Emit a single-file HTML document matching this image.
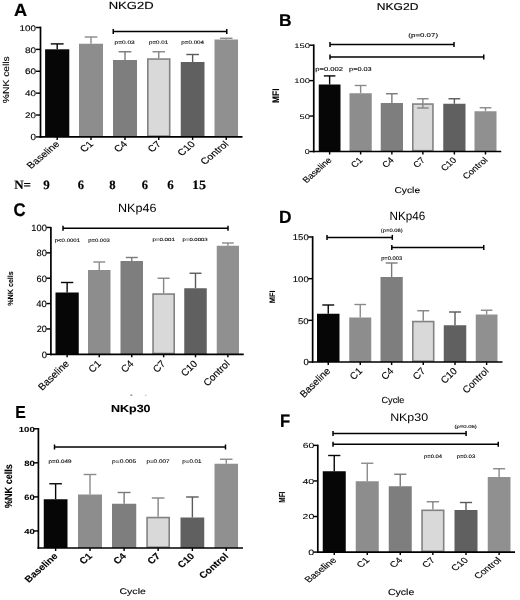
<!DOCTYPE html>
<html><head><meta charset="utf-8"><style>
html,body{margin:0;padding:0;background:#fff;}
svg{display:block;will-change:transform;text-rendering:geometricPrecision;}
text{stroke:#000;}
.S{font-family:"Liberation Sans",sans-serif;}
.Sb{font-family:"Liberation Sans",sans-serif;font-weight:bold;}
.F{font-family:"Liberation Serif",serif;}
.Fb{font-family:"Liberation Serif",serif;font-weight:bold;}
</style></head><body>
<svg width="520" height="600" viewBox="0 0 520 600">
<rect width="520" height="600" fill="#fff"/>
<line x1="57.2" y1="49.3" x2="57.2" y2="43.9" stroke="#060606" stroke-width="1.4"/>
<line x1="50.787" y1="43.9" x2="63.613" y2="43.9" stroke="#060606" stroke-width="1.4"/>
<rect x="45.1" y="49.3" width="24.2" height="87.6" fill="#060606"/>
<line x1="91" y1="43.75" x2="91" y2="37" stroke="#8a8a8a" stroke-width="1.4"/>
<line x1="84.64" y1="37" x2="97.36" y2="37" stroke="#8a8a8a" stroke-width="1.4"/>
<rect x="79" y="43.75" width="24" height="93.15" fill="#8d8d8d"/>
<line x1="125" y1="60" x2="125" y2="51.75" stroke="#7a7a7a" stroke-width="1.4"/>
<line x1="118.64" y1="51.75" x2="131.36" y2="51.75" stroke="#7a7a7a" stroke-width="1.4"/>
<rect x="113" y="60" width="24" height="76.9" fill="#7e7e7e"/>
<line x1="158.75" y1="58.25" x2="158.75" y2="51.75" stroke="#858585" stroke-width="1.4"/>
<line x1="152.523" y1="51.75" x2="164.977" y2="51.75" stroke="#858585" stroke-width="1.4"/>
<rect x="147.8" y="59.05" width="21.9" height="77.05" fill="#d9d9d9" stroke="#828282" stroke-width="1.6"/>
<line x1="192.625" y1="62" x2="192.625" y2="54.5" stroke="#5a5a5a" stroke-width="1.4"/>
<line x1="186.331" y1="54.5" x2="198.919" y2="54.5" stroke="#5a5a5a" stroke-width="1.4"/>
<rect x="180.75" y="62" width="23.75" height="74.9" fill="#606060"/>
<line x1="226.25" y1="39.5" x2="226.25" y2="38.25" stroke="#8a8a8a" stroke-width="1.4"/>
<line x1="220.023" y1="38.25" x2="232.477" y2="38.25" stroke="#8a8a8a" stroke-width="1.4"/>
<rect x="214.5" y="39.5" width="23.5" height="97.4" fill="#909090"/>
<line x1="40.5" y1="26.6" x2="40.5" y2="137.75" stroke="#000" stroke-width="1.7"/>
<line x1="39.65" y1="136.9" x2="242.5" y2="136.9" stroke="#000" stroke-width="1.7"/>
<line x1="36.05" y1="136.9" x2="40.5" y2="136.9" stroke="#000" stroke-width="1.445"/>
<line x1="36.05" y1="115.02" x2="40.5" y2="115.02" stroke="#000" stroke-width="1.445"/>
<line x1="36.05" y1="93.14" x2="40.5" y2="93.14" stroke="#000" stroke-width="1.445"/>
<line x1="36.05" y1="71.26" x2="40.5" y2="71.26" stroke="#000" stroke-width="1.445"/>
<line x1="36.05" y1="49.38" x2="40.5" y2="49.38" stroke="#000" stroke-width="1.445"/>
<line x1="36.05" y1="27.5" x2="40.5" y2="27.5" stroke="#000" stroke-width="1.445"/>
<line x1="57.2" y1="136.9" x2="57.2" y2="139.9" stroke="#000" stroke-width="1.445"/>
<line x1="91" y1="136.9" x2="91" y2="139.9" stroke="#000" stroke-width="1.445"/>
<line x1="125" y1="136.9" x2="125" y2="139.9" stroke="#000" stroke-width="1.445"/>
<line x1="158.75" y1="136.9" x2="158.75" y2="139.9" stroke="#000" stroke-width="1.445"/>
<line x1="192.625" y1="136.9" x2="192.625" y2="139.9" stroke="#000" stroke-width="1.445"/>
<line x1="226.25" y1="136.9" x2="226.25" y2="139.9" stroke="#000" stroke-width="1.445"/>
<line x1="113.25" y1="31.6" x2="226.75" y2="31.6" stroke="#000" stroke-width="1.5"/>
<line x1="113.25" y1="29.1" x2="113.25" y2="34.1" stroke="#000" stroke-width="1.5"/>
<line x1="226.75" y1="29.1" x2="226.75" y2="34.1" stroke="#000" stroke-width="1.5"/>
<line x1="329.625" y1="84.5" x2="329.625" y2="75.9" stroke="#060606" stroke-width="1.4"/>
<line x1="323.861" y1="75.9" x2="335.389" y2="75.9" stroke="#060606" stroke-width="1.4"/>
<rect x="318.75" y="84.5" width="21.75" height="67" fill="#060606"/>
<line x1="360.625" y1="93.25" x2="360.625" y2="85.5" stroke="#8a8a8a" stroke-width="1.4"/>
<line x1="354.729" y1="85.5" x2="366.521" y2="85.5" stroke="#8a8a8a" stroke-width="1.4"/>
<rect x="349.5" y="93.25" width="22.25" height="58.25" fill="#8d8d8d"/>
<line x1="391.875" y1="103" x2="391.875" y2="93.75" stroke="#7a7a7a" stroke-width="1.4"/>
<line x1="385.979" y1="93.75" x2="397.771" y2="93.75" stroke="#7a7a7a" stroke-width="1.4"/>
<rect x="380.75" y="103" width="22.25" height="48.5" fill="#7e7e7e"/>
<line x1="422.875" y1="103.25" x2="422.875" y2="98.75" stroke="#858585" stroke-width="1.4"/>
<line x1="417.111" y1="98.75" x2="428.639" y2="98.75" stroke="#858585" stroke-width="1.4"/>
<rect x="412.8" y="104.05" width="20.15" height="46.65" fill="#d9d9d9" stroke="#828282" stroke-width="1.6"/>
<line x1="422.875" y1="103.25" x2="422.875" y2="108" stroke="#858585" stroke-width="1.4"/>
<line x1="417.111" y1="108" x2="428.639" y2="108" stroke="#858585" stroke-width="1.4"/>
<line x1="454.375" y1="103.75" x2="454.375" y2="98.75" stroke="#5a5a5a" stroke-width="1.4"/>
<line x1="448.479" y1="98.75" x2="460.271" y2="98.75" stroke="#5a5a5a" stroke-width="1.4"/>
<rect x="443.25" y="103.75" width="22.25" height="47.75" fill="#606060"/>
<line x1="485.5" y1="111.25" x2="485.5" y2="107.75" stroke="#8a8a8a" stroke-width="1.4"/>
<line x1="479.67" y1="107.75" x2="491.33" y2="107.75" stroke="#8a8a8a" stroke-width="1.4"/>
<rect x="474.5" y="111.25" width="22" height="40.25" fill="#909090"/>
<line x1="313.75" y1="44.4" x2="313.75" y2="152.35" stroke="#000" stroke-width="1.7"/>
<line x1="312.9" y1="151.5" x2="501.25" y2="151.5" stroke="#000" stroke-width="1.7"/>
<line x1="309.3" y1="151.5" x2="313.75" y2="151.5" stroke="#000" stroke-width="1.445"/>
<line x1="309.3" y1="116.065" x2="313.75" y2="116.065" stroke="#000" stroke-width="1.445"/>
<line x1="309.3" y1="80.63" x2="313.75" y2="80.63" stroke="#000" stroke-width="1.445"/>
<line x1="309.3" y1="45.195" x2="313.75" y2="45.195" stroke="#000" stroke-width="1.445"/>
<line x1="329.625" y1="151.5" x2="329.625" y2="154.5" stroke="#000" stroke-width="1.445"/>
<line x1="360.625" y1="151.5" x2="360.625" y2="154.5" stroke="#000" stroke-width="1.445"/>
<line x1="391.875" y1="151.5" x2="391.875" y2="154.5" stroke="#000" stroke-width="1.445"/>
<line x1="422.875" y1="151.5" x2="422.875" y2="154.5" stroke="#000" stroke-width="1.445"/>
<line x1="454.375" y1="151.5" x2="454.375" y2="154.5" stroke="#000" stroke-width="1.445"/>
<line x1="485.5" y1="151.5" x2="485.5" y2="154.5" stroke="#000" stroke-width="1.445"/>
<line x1="330" y1="44.5" x2="454" y2="44.5" stroke="#000" stroke-width="1.5"/>
<line x1="330" y1="42" x2="330" y2="47" stroke="#000" stroke-width="1.5"/>
<line x1="454" y1="42" x2="454" y2="47" stroke="#000" stroke-width="1.5"/>
<line x1="330" y1="57" x2="483.75" y2="57" stroke="#000" stroke-width="1.5"/>
<line x1="330" y1="54.5" x2="330" y2="59.5" stroke="#000" stroke-width="1.5"/>
<line x1="483.75" y1="54.5" x2="483.75" y2="59.5" stroke="#000" stroke-width="1.5"/>
<line x1="67.125" y1="292.5" x2="67.125" y2="282.5" stroke="#060606" stroke-width="1.4"/>
<line x1="60.964" y1="282.5" x2="73.286" y2="282.5" stroke="#060606" stroke-width="1.4"/>
<rect x="55.5" y="292.5" width="23.25" height="61.8" fill="#060606"/>
<line x1="99.25" y1="270" x2="99.25" y2="262" stroke="#8a8a8a" stroke-width="1.4"/>
<line x1="93.287" y1="262" x2="105.213" y2="262" stroke="#8a8a8a" stroke-width="1.4"/>
<rect x="88" y="270" width="22.5" height="84.3" fill="#8d8d8d"/>
<line x1="131.75" y1="261" x2="131.75" y2="257.5" stroke="#7a7a7a" stroke-width="1.4"/>
<line x1="125.787" y1="257.5" x2="137.713" y2="257.5" stroke="#7a7a7a" stroke-width="1.4"/>
<rect x="120.5" y="261" width="22.5" height="93.3" fill="#7e7e7e"/>
<line x1="163.625" y1="293.25" x2="163.625" y2="278.25" stroke="#858585" stroke-width="1.4"/>
<line x1="157.596" y1="278.25" x2="169.654" y2="278.25" stroke="#858585" stroke-width="1.4"/>
<rect x="153.05" y="294.05" width="21.15" height="59.45" fill="#d9d9d9" stroke="#828282" stroke-width="1.6"/>
<line x1="195.5" y1="288.25" x2="195.5" y2="273.25" stroke="#5a5a5a" stroke-width="1.4"/>
<line x1="189.537" y1="273.25" x2="201.463" y2="273.25" stroke="#5a5a5a" stroke-width="1.4"/>
<rect x="184.25" y="288.25" width="22.5" height="66.05" fill="#606060"/>
<line x1="227.875" y1="245.75" x2="227.875" y2="243" stroke="#8a8a8a" stroke-width="1.4"/>
<line x1="221.979" y1="243" x2="233.771" y2="243" stroke="#8a8a8a" stroke-width="1.4"/>
<rect x="216.75" y="245.75" width="22.25" height="108.55" fill="#909090"/>
<line x1="50.9" y1="226.9" x2="50.9" y2="355.15" stroke="#000" stroke-width="1.7"/>
<line x1="50.05" y1="354.3" x2="243.75" y2="354.3" stroke="#000" stroke-width="1.7"/>
<line x1="46.45" y1="354.3" x2="50.9" y2="354.3" stroke="#000" stroke-width="1.445"/>
<line x1="46.45" y1="328.928" x2="50.9" y2="328.928" stroke="#000" stroke-width="1.445"/>
<line x1="46.45" y1="303.556" x2="50.9" y2="303.556" stroke="#000" stroke-width="1.445"/>
<line x1="46.45" y1="278.184" x2="50.9" y2="278.184" stroke="#000" stroke-width="1.445"/>
<line x1="46.45" y1="252.812" x2="50.9" y2="252.812" stroke="#000" stroke-width="1.445"/>
<line x1="46.45" y1="227.44" x2="50.9" y2="227.44" stroke="#000" stroke-width="1.445"/>
<line x1="67.125" y1="354.3" x2="67.125" y2="357.3" stroke="#000" stroke-width="1.445"/>
<line x1="99.25" y1="354.3" x2="99.25" y2="357.3" stroke="#000" stroke-width="1.445"/>
<line x1="131.75" y1="354.3" x2="131.75" y2="357.3" stroke="#000" stroke-width="1.445"/>
<line x1="163.625" y1="354.3" x2="163.625" y2="357.3" stroke="#000" stroke-width="1.445"/>
<line x1="195.5" y1="354.3" x2="195.5" y2="357.3" stroke="#000" stroke-width="1.445"/>
<line x1="227.875" y1="354.3" x2="227.875" y2="357.3" stroke="#000" stroke-width="1.445"/>
<line x1="63" y1="228.25" x2="228" y2="228.25" stroke="#000" stroke-width="1.5"/>
<line x1="63" y1="225.75" x2="63" y2="230.75" stroke="#000" stroke-width="1.5"/>
<line x1="228" y1="225.75" x2="228" y2="230.75" stroke="#000" stroke-width="1.5"/>
<line x1="328.25" y1="313.75" x2="328.25" y2="305" stroke="#060606" stroke-width="1.4"/>
<line x1="322.288" y1="305" x2="334.212" y2="305" stroke="#060606" stroke-width="1.4"/>
<rect x="317" y="313.75" width="22.5" height="48.25" fill="#060606"/>
<line x1="360.25" y1="317.5" x2="360.25" y2="304.5" stroke="#8a8a8a" stroke-width="1.4"/>
<line x1="354.42" y1="304.5" x2="366.08" y2="304.5" stroke="#8a8a8a" stroke-width="1.4"/>
<rect x="349.25" y="317.5" width="22" height="44.5" fill="#8d8d8d"/>
<line x1="391.625" y1="277" x2="391.625" y2="263" stroke="#7a7a7a" stroke-width="1.4"/>
<line x1="385.729" y1="263" x2="397.521" y2="263" stroke="#7a7a7a" stroke-width="1.4"/>
<rect x="380.5" y="277" width="22.25" height="85" fill="#7e7e7e"/>
<line x1="423.25" y1="320.75" x2="423.25" y2="310.75" stroke="#858585" stroke-width="1.4"/>
<line x1="417.288" y1="310.75" x2="429.212" y2="310.75" stroke="#858585" stroke-width="1.4"/>
<rect x="412.8" y="321.55" width="20.9" height="39.65" fill="#d9d9d9" stroke="#828282" stroke-width="1.6"/>
<line x1="455" y1="325.25" x2="455" y2="312" stroke="#5a5a5a" stroke-width="1.4"/>
<line x1="449.038" y1="312" x2="460.962" y2="312" stroke="#5a5a5a" stroke-width="1.4"/>
<rect x="443.75" y="325.25" width="22.5" height="36.75" fill="#606060"/>
<line x1="486.625" y1="314.5" x2="486.625" y2="310.25" stroke="#8a8a8a" stroke-width="1.4"/>
<line x1="480.861" y1="310.25" x2="492.389" y2="310.25" stroke="#8a8a8a" stroke-width="1.4"/>
<rect x="475.75" y="314.5" width="21.75" height="47.5" fill="#909090"/>
<line x1="312.65" y1="236.2" x2="312.65" y2="362.85" stroke="#000" stroke-width="1.7"/>
<line x1="311.8" y1="362" x2="502.5" y2="362" stroke="#000" stroke-width="1.7"/>
<line x1="308.2" y1="362" x2="312.65" y2="362" stroke="#000" stroke-width="1.445"/>
<line x1="308.2" y1="320.335" x2="312.65" y2="320.335" stroke="#000" stroke-width="1.445"/>
<line x1="308.2" y1="278.67" x2="312.65" y2="278.67" stroke="#000" stroke-width="1.445"/>
<line x1="308.2" y1="237.005" x2="312.65" y2="237.005" stroke="#000" stroke-width="1.445"/>
<line x1="328.25" y1="362" x2="328.25" y2="365" stroke="#000" stroke-width="1.445"/>
<line x1="360.25" y1="362" x2="360.25" y2="365" stroke="#000" stroke-width="1.445"/>
<line x1="391.625" y1="362" x2="391.625" y2="365" stroke="#000" stroke-width="1.445"/>
<line x1="423.25" y1="362" x2="423.25" y2="365" stroke="#000" stroke-width="1.445"/>
<line x1="455" y1="362" x2="455" y2="365" stroke="#000" stroke-width="1.445"/>
<line x1="486.625" y1="362" x2="486.625" y2="365" stroke="#000" stroke-width="1.445"/>
<line x1="327" y1="237.4" x2="392.3" y2="237.4" stroke="#000" stroke-width="1.5"/>
<line x1="327" y1="234.9" x2="327" y2="239.9" stroke="#000" stroke-width="1.5"/>
<line x1="392.3" y1="234.9" x2="392.3" y2="239.9" stroke="#000" stroke-width="1.5"/>
<line x1="391.8" y1="247.6" x2="483.75" y2="247.6" stroke="#000" stroke-width="1.5"/>
<line x1="391.8" y1="245.1" x2="391.8" y2="250.1" stroke="#000" stroke-width="1.5"/>
<line x1="483.75" y1="245.1" x2="483.75" y2="250.1" stroke="#000" stroke-width="1.5"/>
<line x1="55.625" y1="499.25" x2="55.625" y2="483.75" stroke="#060606" stroke-width="1.4"/>
<line x1="49.331" y1="483.75" x2="61.919" y2="483.75" stroke="#060606" stroke-width="1.4"/>
<rect x="43.75" y="499.25" width="23.75" height="48.75" fill="#060606"/>
<line x1="90" y1="494.5" x2="90" y2="474.5" stroke="#8a8a8a" stroke-width="1.4"/>
<line x1="83.64" y1="474.5" x2="96.36" y2="474.5" stroke="#8a8a8a" stroke-width="1.4"/>
<rect x="78" y="494.5" width="24" height="53.5" fill="#8d8d8d"/>
<line x1="124.125" y1="503.75" x2="124.125" y2="492.5" stroke="#7a7a7a" stroke-width="1.4"/>
<line x1="117.699" y1="492.5" x2="130.551" y2="492.5" stroke="#7a7a7a" stroke-width="1.4"/>
<rect x="112" y="503.75" width="24.25" height="44.25" fill="#7e7e7e"/>
<line x1="158.125" y1="516.75" x2="158.125" y2="498" stroke="#858585" stroke-width="1.4"/>
<line x1="151.831" y1="498" x2="164.419" y2="498" stroke="#858585" stroke-width="1.4"/>
<rect x="147.05" y="517.55" width="22.15" height="29.65" fill="#d9d9d9" stroke="#828282" stroke-width="1.6"/>
<line x1="192.375" y1="517.5" x2="192.375" y2="497" stroke="#5a5a5a" stroke-width="1.4"/>
<line x1="186.081" y1="497" x2="198.669" y2="497" stroke="#5a5a5a" stroke-width="1.4"/>
<rect x="180.5" y="517.5" width="23.75" height="30.5" fill="#606060"/>
<line x1="226.25" y1="463.75" x2="226.25" y2="459.25" stroke="#8a8a8a" stroke-width="1.4"/>
<line x1="220.023" y1="459.25" x2="232.477" y2="459.25" stroke="#8a8a8a" stroke-width="1.4"/>
<rect x="214.5" y="463.75" width="23.5" height="84.25" fill="#909090"/>
<line x1="38.4" y1="428" x2="38.4" y2="548.85" stroke="#000" stroke-width="1.7"/>
<line x1="37.55" y1="548" x2="243" y2="548" stroke="#000" stroke-width="1.7"/>
<line x1="33.95" y1="530.967" x2="38.4" y2="530.967" stroke="#000" stroke-width="1.445"/>
<line x1="33.95" y1="496.901" x2="38.4" y2="496.901" stroke="#000" stroke-width="1.445"/>
<line x1="33.95" y1="462.835" x2="38.4" y2="462.835" stroke="#000" stroke-width="1.445"/>
<line x1="33.95" y1="428.769" x2="38.4" y2="428.769" stroke="#000" stroke-width="1.445"/>
<line x1="55.625" y1="548" x2="55.625" y2="551" stroke="#000" stroke-width="1.445"/>
<line x1="90" y1="548" x2="90" y2="551" stroke="#000" stroke-width="1.445"/>
<line x1="124.125" y1="548" x2="124.125" y2="551" stroke="#000" stroke-width="1.445"/>
<line x1="158.125" y1="548" x2="158.125" y2="551" stroke="#000" stroke-width="1.445"/>
<line x1="192.375" y1="548" x2="192.375" y2="551" stroke="#000" stroke-width="1.445"/>
<line x1="226.25" y1="548" x2="226.25" y2="551" stroke="#000" stroke-width="1.445"/>
<line x1="54.5" y1="447" x2="225.5" y2="447" stroke="#000" stroke-width="1.5"/>
<line x1="54.5" y1="444.5" x2="54.5" y2="449.5" stroke="#000" stroke-width="1.5"/>
<line x1="225.5" y1="444.5" x2="225.5" y2="449.5" stroke="#000" stroke-width="1.5"/>
<line x1="334.25" y1="471.25" x2="334.25" y2="455.5" stroke="#060606" stroke-width="1.4"/>
<line x1="328.155" y1="455.5" x2="340.345" y2="455.5" stroke="#060606" stroke-width="1.4"/>
<rect x="322.75" y="471.25" width="23" height="80.85" fill="#060606"/>
<line x1="367.25" y1="481.25" x2="367.25" y2="463.25" stroke="#8a8a8a" stroke-width="1.4"/>
<line x1="361.155" y1="463.25" x2="373.345" y2="463.25" stroke="#8a8a8a" stroke-width="1.4"/>
<rect x="355.75" y="481.25" width="23" height="70.85" fill="#8d8d8d"/>
<line x1="400.25" y1="486.25" x2="400.25" y2="474.25" stroke="#7a7a7a" stroke-width="1.4"/>
<line x1="394.155" y1="474.25" x2="406.345" y2="474.25" stroke="#7a7a7a" stroke-width="1.4"/>
<rect x="388.75" y="486.25" width="23" height="65.85" fill="#7e7e7e"/>
<line x1="432.875" y1="509.5" x2="432.875" y2="501.75" stroke="#858585" stroke-width="1.4"/>
<line x1="426.714" y1="501.75" x2="439.036" y2="501.75" stroke="#858585" stroke-width="1.4"/>
<rect x="422.05" y="510.3" width="21.65" height="41" fill="#d9d9d9" stroke="#828282" stroke-width="1.6"/>
<line x1="466" y1="510" x2="466" y2="502.5" stroke="#5a5a5a" stroke-width="1.4"/>
<line x1="459.905" y1="502.5" x2="472.095" y2="502.5" stroke="#5a5a5a" stroke-width="1.4"/>
<rect x="454.5" y="510" width="23" height="42.1" fill="#606060"/>
<line x1="499.125" y1="477" x2="499.125" y2="468.75" stroke="#8a8a8a" stroke-width="1.4"/>
<line x1="493.096" y1="468.75" x2="505.154" y2="468.75" stroke="#8a8a8a" stroke-width="1.4"/>
<rect x="487.75" y="477" width="22.75" height="75.1" fill="#909090"/>
<line x1="317.8" y1="444.7" x2="317.8" y2="552.95" stroke="#000" stroke-width="1.7"/>
<line x1="316.95" y1="552.1" x2="515" y2="552.1" stroke="#000" stroke-width="1.7"/>
<line x1="313.35" y1="552.1" x2="317.8" y2="552.1" stroke="#000" stroke-width="1.445"/>
<line x1="313.35" y1="516.52" x2="317.8" y2="516.52" stroke="#000" stroke-width="1.445"/>
<line x1="313.35" y1="480.94" x2="317.8" y2="480.94" stroke="#000" stroke-width="1.445"/>
<line x1="313.35" y1="445.36" x2="317.8" y2="445.36" stroke="#000" stroke-width="1.445"/>
<line x1="334.25" y1="552.1" x2="334.25" y2="555.1" stroke="#000" stroke-width="1.445"/>
<line x1="367.25" y1="552.1" x2="367.25" y2="555.1" stroke="#000" stroke-width="1.445"/>
<line x1="400.25" y1="552.1" x2="400.25" y2="555.1" stroke="#000" stroke-width="1.445"/>
<line x1="432.875" y1="552.1" x2="432.875" y2="555.1" stroke="#000" stroke-width="1.445"/>
<line x1="466" y1="552.1" x2="466" y2="555.1" stroke="#000" stroke-width="1.445"/>
<line x1="499.125" y1="552.1" x2="499.125" y2="555.1" stroke="#000" stroke-width="1.445"/>
<line x1="333" y1="433.4" x2="466.1" y2="433.4" stroke="#000" stroke-width="1.5"/>
<line x1="333" y1="430.9" x2="333" y2="435.9" stroke="#000" stroke-width="1.5"/>
<line x1="466.1" y1="430.9" x2="466.1" y2="435.9" stroke="#000" stroke-width="1.5"/>
<line x1="333" y1="444.2" x2="498.25" y2="444.2" stroke="#000" stroke-width="1.5"/>
<line x1="333" y1="441.7" x2="333" y2="446.7" stroke="#000" stroke-width="1.5"/>
<line x1="498.25" y1="441.7" x2="498.25" y2="446.7" stroke="#000" stroke-width="1.5"/>
<ellipse cx="131.3" cy="395.1" rx="1.3" ry="0.55" fill="#707070"/>
<ellipse cx="145.8" cy="395.4" rx="1.1" ry="0.8" fill="#d4d4d4"/>
<text class="S" transform="translate(30.623,140) scale(1.09,1)" font-size="9.036" stroke-width="0.114">0</text>
<text class="S" transform="translate(25.004,118) scale(1.211,1)" font-size="8.156" stroke-width="0.114">20</text>
<text class="S" transform="translate(25.113,96) scale(1.207,1)" font-size="8.156" stroke-width="0.114">40</text>
<text class="S" transform="translate(24.971,74) scale(1.231,1)" font-size="8.156" stroke-width="0.114">60</text>
<text class="S" transform="translate(25.051,53) scale(1.229,1)" font-size="8.156" stroke-width="0.114">80</text>
<text class="S" transform="translate(19.596,31) scale(1.212,1)" font-size="8.156" stroke-width="0.114">100</text>
<text class="S" transform="translate(114.506,44) scale(1.286,1)" font-size="5.106" stroke-width="0.1">p=0.03</text>
<text class="S" transform="translate(149.04,44) scale(1.213,1)" font-size="5.106" stroke-width="0.1">p=0.01</text>
<text class="S" transform="translate(181.289,44) scale(1.228,1)" font-size="5.106" stroke-width="0.1">p=0.004</text>
<text class="Sb" transform="translate(13.984,16) scale(1.02,1)" font-size="17.81" stroke-width="0.214">A</text>
<text class="S" transform="translate(108.696,9) scale(1.259,1)" font-size="10.355" stroke-width="0.145">NKG2D</text>
<text class="S" transform="translate(9,103.164) scale(1,1.177) rotate(-90)" font-size="8.767" stroke-width="0.123">%NK cells</text>
<text class="S" transform="translate(60.231,144.723) scale(1.193,1) rotate(-45)" font-size="9.008" stroke-width="0.123" text-anchor="end">Baseline</text>
<text class="S" transform="translate(94.031,144.723) scale(1.193,1) rotate(-45)" font-size="9.008" stroke-width="0.123" text-anchor="end">C1</text>
<text class="S" transform="translate(128.031,144.723) scale(1.193,1) rotate(-45)" font-size="9.008" stroke-width="0.123" text-anchor="end">C4</text>
<text class="S" transform="translate(161.781,144.723) scale(1.193,1) rotate(-45)" font-size="9.008" stroke-width="0.123" text-anchor="end">C7</text>
<text class="S" transform="translate(195.656,144.723) scale(1.193,1) rotate(-45)" font-size="9.008" stroke-width="0.123" text-anchor="end">C10</text>
<text class="S" transform="translate(229.281,144.723) scale(1.193,1) rotate(-45)" font-size="9.008" stroke-width="0.123" text-anchor="end">Control</text>
<text class="S" transform="translate(304.678,154) scale(1.256,1)" font-size="6.998" stroke-width="0.044">0</text>
<text class="S" transform="translate(299.538,119) scale(1.403,1)" font-size="6.667" stroke-width="0.044">50</text>
<text class="S" transform="translate(294.251,83) scale(1.424,1)" font-size="6.667" stroke-width="0.044">100</text>
<text class="S" transform="translate(294.251,48) scale(1.424,1)" font-size="6.667" stroke-width="0.044">150</text>
<text class="S" transform="translate(408.36,37) scale(1.434,1)" font-size="5.532" stroke-width="0.1">(p=0.07)</text>
<text class="S" transform="translate(315.211,70.5) scale(1.314,1)" font-size="5.816" stroke-width="0.1">p=0.002</text>
<text class="S" transform="translate(349.099,70.5) scale(1.256,1)" font-size="5.816" stroke-width="0.1">p=0.03</text>
<text class="Sb" transform="translate(279.048,26) scale(1.02,1)" font-size="17.08" stroke-width="0.205">B</text>
<text class="S" transform="translate(376.734,10) scale(1.221,1)" font-size="9.929" stroke-width="0.139">NKG2D</text>
<text class="Sb" transform="translate(279,102.923) scale(1,0.883) rotate(-90)" font-size="9.54" stroke-width="0.116">MFI</text>
<text class="S" transform="translate(332.289,160.595) scale(1.133,1) rotate(-45)" font-size="8.435" stroke-width="0.114" text-anchor="end">Baseline</text>
<text class="S" transform="translate(363.289,160.595) scale(1.133,1) rotate(-45)" font-size="8.435" stroke-width="0.114" text-anchor="end">C1</text>
<text class="S" transform="translate(394.539,160.595) scale(1.133,1) rotate(-45)" font-size="8.435" stroke-width="0.114" text-anchor="end">C4</text>
<text class="S" transform="translate(425.539,160.595) scale(1.133,1) rotate(-45)" font-size="8.435" stroke-width="0.114" text-anchor="end">C7</text>
<text class="S" transform="translate(457.039,160.595) scale(1.133,1) rotate(-45)" font-size="8.435" stroke-width="0.114" text-anchor="end">C10</text>
<text class="S" transform="translate(488.164,160.595) scale(1.133,1) rotate(-45)" font-size="8.435" stroke-width="0.114" text-anchor="end">Control</text>
<text class="S" transform="translate(394.384,193) scale(1.215,1)" font-size="8.477" stroke-width="0.117">Cycle</text>
<text class="S" transform="translate(41.757,358) scale(1.04,1)" font-size="9.118" stroke-width="0.127">0</text>
<text class="S" transform="translate(36.626,332) scale(0.978,1)" font-size="9.348" stroke-width="0.127">20</text>
<text class="S" transform="translate(36.164,307) scale(1.011,1)" font-size="9.388" stroke-width="0.127">40</text>
<text class="S" transform="translate(36.564,282) scale(1.003,1)" font-size="9.24" stroke-width="0.127">60</text>
<text class="S" transform="translate(36.546,256) scale(1.024,1)" font-size="9.078" stroke-width="0.127">80</text>
<text class="S" transform="translate(31.369,231) scale(1.023,1)" font-size="9.078" stroke-width="0.127">100</text>
<text class="S" transform="translate(54.736,242) scale(1.201,1)" font-size="5.035" stroke-width="0.1">p&lt;0.0001</text>
<text class="S" transform="translate(88.142,242) scale(1.183,1)" font-size="5.035" stroke-width="0.1">p=0.003</text>
<text class="S" transform="translate(152.393,241) scale(1.321,1)" font-size="4.681" stroke-width="0.1">p=0.001</text>
<text class="S" transform="translate(182.614,241) scale(1.273,1)" font-size="4.681" stroke-width="0.1">p=0.0003</text>
<text class="Sb" transform="translate(13.433,216) scale(0.908,1)" font-size="18.44" stroke-width="0.221">C</text>
<text class="S" transform="translate(118.013,212) scale(1.049,1)" font-size="11.971" stroke-width="0">NKp46</text>
<text class="Sb" transform="translate(13,305.855) scale(1,0.955) rotate(-90)" font-size="7.539" stroke-width="0.077">%NK cells</text>
<text class="S" transform="translate(69.584,364.324) scale(1.022,1) rotate(-45)" font-size="9.844" stroke-width="0.138" text-anchor="end">Baseline</text>
<text class="S" transform="translate(101.709,364.324) scale(1.022,1) rotate(-45)" font-size="9.844" stroke-width="0.138" text-anchor="end">C1</text>
<text class="S" transform="translate(134.209,364.324) scale(1.022,1) rotate(-45)" font-size="9.844" stroke-width="0.138" text-anchor="end">C4</text>
<text class="S" transform="translate(166.084,364.324) scale(1.022,1) rotate(-45)" font-size="9.844" stroke-width="0.138" text-anchor="end">C7</text>
<text class="S" transform="translate(197.959,364.324) scale(1.022,1) rotate(-45)" font-size="9.844" stroke-width="0.138" text-anchor="end">C10</text>
<text class="S" transform="translate(230.334,364.324) scale(1.022,1) rotate(-45)" font-size="9.844" stroke-width="0.138" text-anchor="end">Control</text>
<text class="S" transform="translate(303.453,365) scale(1.045,1)" font-size="9.012" stroke-width="0.115">0</text>
<text class="S" transform="translate(298.02,324) scale(1.161,1)" font-size="8.227" stroke-width="0.115">50</text>
<text class="S" transform="translate(292.84,282) scale(1.156,1)" font-size="8.227" stroke-width="0.115">100</text>
<text class="S" transform="translate(292.84,240) scale(1.156,1)" font-size="8.227" stroke-width="0.115">150</text>
<text class="S" transform="translate(380.784,232) scale(1.213,1)" font-size="4.823" stroke-width="0.1">(p=0.06)</text>
<text class="S" transform="translate(381.138,260) scale(1.079,1)" font-size="5.39" stroke-width="0.1">p=0.003</text>
<text class="Sb" transform="translate(279.07,223) scale(0.973,1)" font-size="17.81" stroke-width="0.214">D</text>
<text class="S" transform="translate(389.565,220) scale(0.968,1)" font-size="12.087" stroke-width="0">NKp46</text>
<text class="Sb" transform="translate(275,303.278) scale(1,0.949) rotate(-90)" font-size="7.883" stroke-width="0.09">MFI</text>
<text class="S" transform="translate(330.83,371.514) scale(1.009,1) rotate(-45)" font-size="9.844" stroke-width="0.137" text-anchor="end">Baseline</text>
<text class="S" transform="translate(362.83,371.514) scale(1.009,1) rotate(-45)" font-size="9.844" stroke-width="0.137" text-anchor="end">C1</text>
<text class="S" transform="translate(394.205,371.514) scale(1.009,1) rotate(-45)" font-size="9.844" stroke-width="0.137" text-anchor="end">C4</text>
<text class="S" transform="translate(425.83,371.514) scale(1.009,1) rotate(-45)" font-size="9.844" stroke-width="0.137" text-anchor="end">C7</text>
<text class="S" transform="translate(457.58,371.514) scale(1.009,1) rotate(-45)" font-size="9.844" stroke-width="0.137" text-anchor="end">C10</text>
<text class="S" transform="translate(489.205,371.514) scale(1.009,1) rotate(-45)" font-size="9.844" stroke-width="0.137" text-anchor="end">Control</text>
<text class="S" transform="translate(381.384,403) scale(1.038,1)" font-size="8.902" stroke-width="0.12">Cycle</text>
<text class="Sb" transform="translate(24.209,534) scale(1.285,1)" font-size="7.305" stroke-width="0.063">40</text>
<text class="Sb" transform="translate(24.28,500) scale(1.187,1)" font-size="7.781" stroke-width="0.063">60</text>
<text class="Sb" transform="translate(24.247,466) scale(1.234,1)" font-size="7.711" stroke-width="0.063">80</text>
<text class="Sb" transform="translate(18.801,432) scale(1.311,1)" font-size="7.305" stroke-width="0.063">100</text>
<text class="S" transform="translate(48.424,463) scale(1.28,1)" font-size="4.965" stroke-width="0.1">p=0.049</text>
<text class="S" transform="translate(112.089,463) scale(1.263,1)" font-size="5.248" stroke-width="0.1">p=0.005</text>
<text class="S" transform="translate(146.376,463) scale(1.213,1)" font-size="5.248" stroke-width="0.1">p=0.007</text>
<text class="S" transform="translate(182.373,463) scale(1.18,1)" font-size="5.248" stroke-width="0.1">p=0.01</text>
<text class="Sb" transform="translate(15.304,418) scale(0.907,1)" font-size="17.372" stroke-width="0.208">E</text>
<text class="Sb" transform="translate(110.963,412) scale(1.217,1)" font-size="10.282" stroke-width="0.124">NKp30</text>
<text class="Sb" transform="translate(12,508.118) scale(1,0.886) rotate(-90)" font-size="10.274" stroke-width="0.123">%NK cells</text>
<text class="Sb" transform="translate(58.336,556.727) scale(1.132,1) rotate(-45)" font-size="9.011" stroke-width="0.107" text-anchor="end">Baseline</text>
<text class="Sb" transform="translate(92.711,556.727) scale(1.132,1) rotate(-45)" font-size="9.011" stroke-width="0.107" text-anchor="end">C1</text>
<text class="Sb" transform="translate(126.836,556.727) scale(1.132,1) rotate(-45)" font-size="9.011" stroke-width="0.107" text-anchor="end">C4</text>
<text class="Sb" transform="translate(160.836,556.727) scale(1.132,1) rotate(-45)" font-size="9.011" stroke-width="0.107" text-anchor="end">C7</text>
<text class="Sb" transform="translate(195.086,556.727) scale(1.132,1) rotate(-45)" font-size="9.011" stroke-width="0.107" text-anchor="end">C10</text>
<text class="Sb" transform="translate(228.961,556.727) scale(1.132,1) rotate(-45)" font-size="9.011" stroke-width="0.107" text-anchor="end">Control</text>
<text class="S" transform="translate(119.405,594) scale(1.31,1)" font-size="8.093" stroke-width="0.109">Cycle</text>
<text class="S" transform="translate(308.348,555) scale(1.385,1)" font-size="7.694" stroke-width="0.056">0</text>
<text class="S" transform="translate(302.545,519) scale(1.427,1)" font-size="7.388" stroke-width="0.056">20</text>
<text class="S" transform="translate(302.508,484) scale(1.467,1)" font-size="7.194" stroke-width="0.056">40</text>
<text class="S" transform="translate(302.732,448) scale(1.369,1)" font-size="7.561" stroke-width="0.056">60</text>
<text class="S" transform="translate(454.542,428) scale(1.355,1)" font-size="4.397" stroke-width="0.1">(p=0.05)</text>
<text class="S" transform="translate(423.939,458) scale(1.188,1)" font-size="4.965" stroke-width="0.1">p=0.04</text>
<text class="S" transform="translate(456.664,458) scale(1.214,1)" font-size="4.965" stroke-width="0.1">p=0.03</text>
<text class="Sb" transform="translate(280.06,427) scale(0.918,1)" font-size="18.086" stroke-width="0.22">F</text>
<text class="S" transform="translate(390.131,421) scale(1.123,1)" font-size="11.064" stroke-width="0">NKp30</text>
<text class="Sb" transform="translate(285,502.705) scale(1,0.738) rotate(-90)" font-size="8.759" stroke-width="0.105">MFI</text>
<text class="S" transform="translate(337.077,560.669) scale(1.265,1) rotate(-45)" font-size="8.254" stroke-width="0.115" text-anchor="end">Baseline</text>
<text class="S" transform="translate(370.077,560.669) scale(1.265,1) rotate(-45)" font-size="8.254" stroke-width="0.115" text-anchor="end">C1</text>
<text class="S" transform="translate(403.077,560.669) scale(1.265,1) rotate(-45)" font-size="8.254" stroke-width="0.115" text-anchor="end">C4</text>
<text class="S" transform="translate(435.702,560.669) scale(1.265,1) rotate(-45)" font-size="8.254" stroke-width="0.115" text-anchor="end">C7</text>
<text class="S" transform="translate(468.827,560.669) scale(1.265,1) rotate(-45)" font-size="8.254" stroke-width="0.115" text-anchor="end">C10</text>
<text class="S" transform="translate(501.952,560.669) scale(1.265,1) rotate(-45)" font-size="8.254" stroke-width="0.115" text-anchor="end">Control</text>
<text class="S" transform="translate(387.942,595) scale(1.203,1)" font-size="8.777" stroke-width="0.117">Cycle</text>
<text class="Fb" transform="translate(14.162,189) scale(1.018,1)" font-size="12.764" stroke-width="0.156">N=</text>
<text class="Fb" transform="translate(43.278,189) scale(1.02,1)" font-size="12.764" stroke-width="0.156">9</text>
<text class="Fb" transform="translate(77.697,189) scale(0.98,1)" font-size="12.764" stroke-width="0.156">6</text>
<text class="Fb" transform="translate(109.362,189) scale(0.992,1)" font-size="12.764" stroke-width="0.156">8</text>
<text class="Fb" transform="translate(141.697,189) scale(0.98,1)" font-size="12.764" stroke-width="0.156">6</text>
<text class="Fb" transform="translate(167.198,189) scale(1.021,1)" font-size="12.764" stroke-width="0.156">6</text>
<text class="Fb" transform="translate(192.013,189) scale(1.104,1)" font-size="12.764" stroke-width="0.156">15</text>
</svg>
</body></html>
